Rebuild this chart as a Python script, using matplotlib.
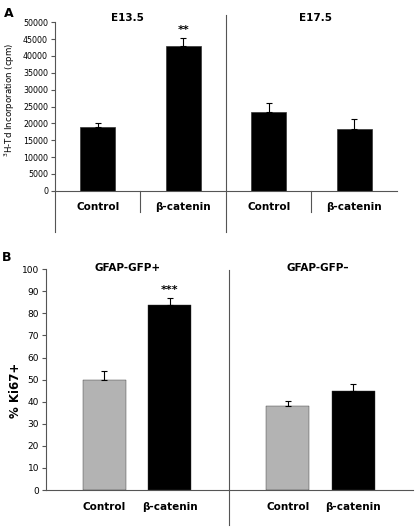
import matplotlib.pyplot as plt

# panel A data
a_groups = ['E13.5', 'E17.5']
a_labels = ['Control', 'β-catenin', 'Control', 'β-catenin']
a_values = [19000, 43000, 23500, 18300]
a_errors = [1200, 2300, 2600, 3100]

# panel B data
b_groups = ['GFAP-GFP+', 'GFAP-GFP\u2013']
b_labels = ['Control', 'β-catenin', 'Control', 'β-catenin']
b_values = [50, 84, 38, 45]
b_errors = [4, 3, 2.5, 3]
b_colors = ['#b3b3b3', 'black', '#b3b3b3', 'black']

line_col = '#555555'

fig = plt.figure(figsize=(4.15, 5.29), dpi=100)

# ---------- panel A ----------
ax = fig.add_axes([0.1325, 0.6395, 0.824, 0.3183])
xa = [0, 1, 2, 3]
ax.bar(xa, a_values, width=0.41, color='black', edgecolor='#333333', linewidth=0.5)
ax.errorbar(xa, a_values, yerr=[[0] * 4, a_errors], fmt='none', ecolor='black',
            elinewidth=0.8, capsize=2.5, capthick=0.8)
ax.set_xlim(-0.5, 3.5)
ax.set_ylim(0, 50000)
ax.set_yticks(range(0, 50001, 5000))
ax.tick_params(axis='y', labelsize=5.7, length=3, width=0.8, color=line_col, pad=2)
ax.set_xticks([])
for s in ['top', 'right']:
    ax.spines[s].set_visible(False)
for s in ['left', 'bottom']:
    ax.spines[s].set_color(line_col)
    ax.spines[s].set_linewidth(0.8)
tr = ax.get_xaxis_transform()
ax.plot([-0.5, -0.5], [0, -0.245], transform=tr, clip_on=False, color=line_col, lw=0.8)
ax.plot([1.5, 1.5], [1.043, -0.245], transform=tr, clip_on=False, color=line_col, lw=0.8)
for xd in [0.5, 2.5]:
    ax.plot([xd, xd], [0, -0.126], transform=tr, clip_on=False, color=line_col, lw=0.8)
for x, lab in zip(xa, a_labels):
    ax.text(x, -0.095, lab, transform=tr, ha='center', va='center',
            fontsize=7.5, fontweight='bold')
for x, g in zip([0.35, 2.55], a_groups):
    ax.text(x, 1.025, g, transform=tr, ha='center', va='center',
            fontsize=7.5, fontweight='bold')
ax.text(1, a_values[1] + a_errors[1] + 900, '**', ha='center', va='bottom',
        fontsize=8, fontweight='bold')
ax.set_ylabel('$^{3}$H-Td Incorporation (cpm)', fontsize=6.2)
ax.yaxis.set_label_coords(-0.11, 0.54)
fig.text(0.01, 0.975, 'A', fontsize=9, fontweight='bold', va='center')

# ---------- panel B ----------
bx = fig.add_axes([0.1108, 0.0737, 0.8842, 0.4173])
xb = [0, 1, 2.8, 3.8]
bx.bar(xb, b_values, width=0.66, color=b_colors, edgecolor='#333333', linewidth=0.3)
bx.errorbar(xb, b_values, yerr=[[0] * 4, b_errors], fmt='none', ecolor='black',
            elinewidth=0.8, capsize=2.5, capthick=0.8)
bx.set_xlim(-0.89, 4.71)
bx.set_ylim(0, 100)
bx.set_yticks(range(0, 101, 10))
bx.tick_params(axis='y', labelsize=6.5, length=3, width=0.8, color=line_col, pad=2)
bx.set_xticks([])
for s in ['top', 'right']:
    bx.spines[s].set_visible(False)
for s in ['left', 'bottom']:
    bx.spines[s].set_color(line_col)
    bx.spines[s].set_linewidth(0.8)
trb = bx.get_xaxis_transform()
bx.plot([1.9, 1.9], [0.997, -0.159], transform=trb, clip_on=False, color=line_col, lw=0.8)
for x, lab in zip(xb, b_labels):
    bx.text(x, -0.077, lab, transform=trb, ha='center', va='center',
            fontsize=7.5, fontweight='bold')
for x, g in zip([0.36, 3.26], b_groups):
    bx.text(x, 1.005, g, transform=trb, ha='center', va='center',
            fontsize=7.5, fontweight='bold')
bx.text(1, b_values[1] + b_errors[1] + 1.5, '***', ha='center', va='bottom',
        fontsize=8, fontweight='bold')
bx.set_ylabel('% Ki67+', fontsize=8.5, fontweight='bold')
bx.yaxis.set_label_coords(-0.065, 0.45)
fig.text(0.005, 0.514, 'B', fontsize=9, fontweight='bold', va='center')

fig.savefig('out.png', dpi=100)
